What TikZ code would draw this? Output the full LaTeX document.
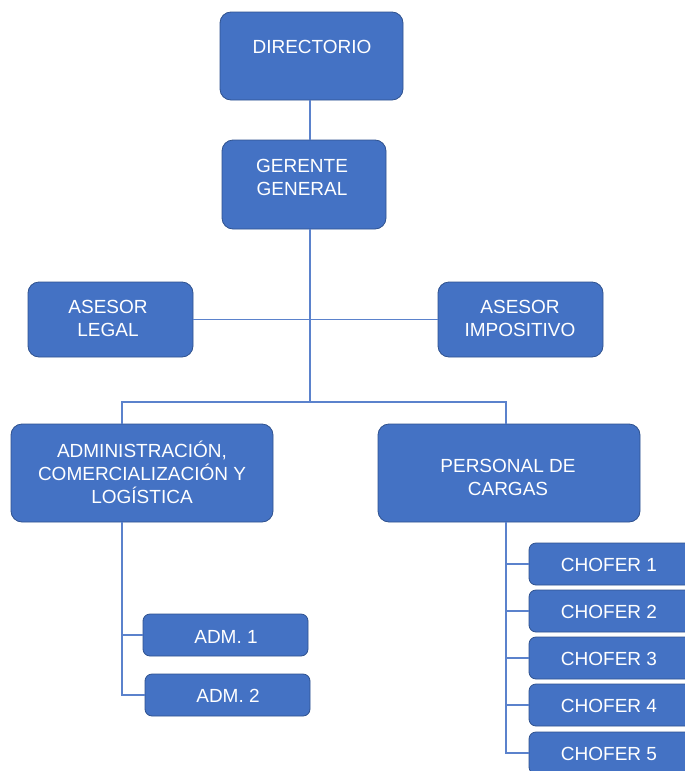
\documentclass[tikz,border=0pt]{standalone}
\usepackage{fontspec}
\setmainfont{Liberation Sans}
\definecolor{boxfill}{HTML}{4472C4}
\definecolor{boxedge}{HTML}{2F528F}
\definecolor{linkc}{HTML}{5B82CC}
\begin{document}
\begin{tikzpicture}[x=1pt,y=-1pt,
  box/.style={draw=boxedge,fill=boxfill,line width=0.8pt,rounded corners=11pt,inner sep=0pt},
  sbox/.style={box,rounded corners=7pt,minimum height=42pt,minimum width=165pt},
  lbl/.style={text=white,align=center,font=\fontsize{19}{23}\selectfont,inner sep=0pt},
  link/.style={draw=linkc,line width=1.6pt}]
\useasboundingbox (0,0) rectangle (685,771);
\clip (0,0) rectangle (685,771);
\fill[white] (0,0) rectangle (685,771);
% coordinates for connector lines
\coordinate (trunk) at (310,0);
\coordinate (br) at (310,402);
\coordinate (la) at (122,0);
\coordinate (lb) at (506,0);
% boxes
\node[box,minimum width=183pt,minimum height=88pt] (dir) at (311.5,56) {};
\node[box,minimum width=164pt,minimum height=89pt] (ger) at (304,184.5) {};
\node[box,minimum width=165pt,minimum height=75pt] (legal) at (110.5,319.5) {};
\node[box,minimum width=165pt,minimum height=75pt] (imp) at (520.5,319.5) {};
\node[box,minimum width=262pt,minimum height=98pt] (adm) at (142,473) {};
\node[box,minimum width=262pt,minimum height=98pt] (pers) at (509,473) {};
\node[sbox] (adm1) at (225.5,635) {};
\node[sbox] (adm2) at (227.5,695) {};
\node[sbox,minimum width=163pt] (ch1) at (610.5,564) {};
\node[sbox,minimum width=163pt] (ch2) at (610.5,611) {};
\node[sbox,minimum width=163pt] (ch3) at (610.5,658) {};
\node[sbox,minimum width=163pt] (ch4) at (610.5,705) {};
\node[sbox,minimum width=163pt] (ch5) at (610.5,753) {};
% labels
\node[lbl] (tdir) at (312,47) {DIRECTORIO};
\node[lbl] (tger) at (302,177) {GERENTE\\GENERAL};
\node[lbl] (tlegal) at (108,318) {ASESOR\\LEGAL};
\node[lbl] (timp) at (520,318) {ASESOR\\IMPOSITIVO};
\node[lbl] (tadm) at (142,472) {ADMINISTRACIÓN,\\COMERCIALIZACIÓN Y\\LOGÍSTICA};
\node[lbl] (tpers) at (508,477) {PERSONAL DE\\CARGAS};
\node[lbl] (tadm1) at (226,637) {ADM. 1};
\node[lbl] (tadm2) at (228,696) {ADM. 2};
\node[lbl] (tch1) at (609,565) {CHOFER 1};
\node[lbl] (tch2) at (609,612) {CHOFER 2};
\node[lbl] (tch3) at (609,659) {CHOFER 3};
\node[lbl] (tch4) at (609,706) {CHOFER 4};
\node[lbl] (tch5) at (609,754) {CHOFER 5};
% connectors
\draw[link] (dir.south -| trunk) -- (ger.north -| trunk);
\draw[link] (ger.south -| trunk) -- (br);
\draw[link] (legal.east) -- (imp.west);
\draw[link] (adm.north -| la) |- (br) -| (pers.north -| lb);
\draw[link] (adm.south -| la) |- (adm1.west);
\draw[link] (adm1.west -| la) |- (adm2.west);
\draw[link] (pers.south -| lb) |- (ch1.west);
\draw[link] (ch1.west -| lb) |- (ch2.west);
\draw[link] (ch2.west -| lb) |- (ch3.west);
\draw[link] (ch3.west -| lb) |- (ch4.west);
\draw[link] (ch4.west -| lb) |- (ch5.west);
\end{tikzpicture}
\end{document}
